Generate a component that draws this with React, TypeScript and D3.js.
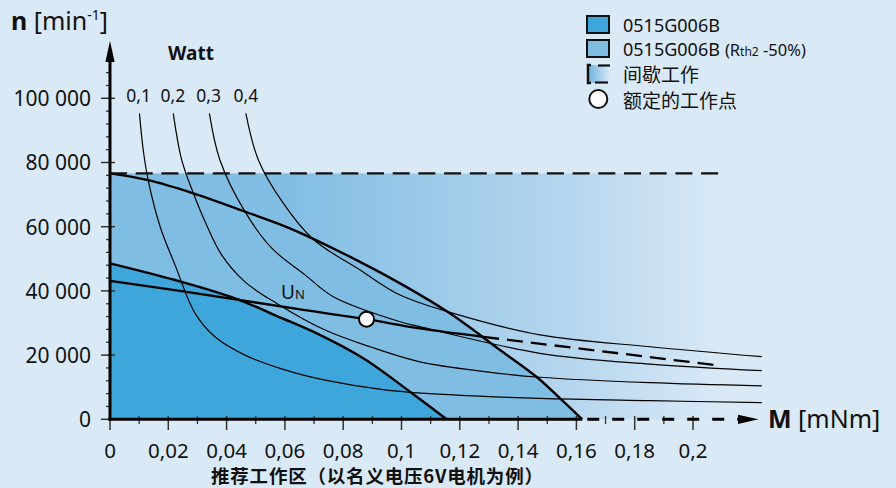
import React from 'react';
import * as d3 from 'd3';

const W = 896;
const H = 488;

// ---------- data ----------
const X_TICKS = [0, 0.02, 0.04, 0.06, 0.08, 0.1, 0.12, 0.14, 0.16, 0.18, 0.2];
const X_TICK_LABELS = ['0', '0,02', '0,04', '0,06', '0,08', '0,1', '0,12', '0,14', '0,16', '0,18', '0,2'];
const X_MINOR = [0.01, 0.03, 0.05, 0.07, 0.09, 0.11, 0.13, 0.15, 0.17, 0.19];
const Y_TICKS = [0, 20000, 40000, 60000, 80000, 100000];
const Y_TICK_LABELS = ['0', '20 000', '40 000', '60 000', '80 000', '100 000'];
const Y_MINOR = [4000, 8000, 12000, 16000, 24000, 28000, 32000, 36000, 44000, 48000, 52000, 56000, 64000, 68000, 72000, 76000, 84000, 88000, 92000, 96000, 104000, 108000];

// speed limit (dashed) and end of intermittent region
const LIMIT_N = 76600;
const LIMIT_M_END = 0.2097;

// 0515G006B (Rth2 -50%) boundary
const MED_M = [0, 0.0131, 0.0286, 0.0463, 0.0617, 0.0846, 0.1006, 0.1166, 0.1338, 0.1469, 0.1544, 0.162];
const MED_N = [76600, 74500, 70400, 64700, 59500, 49600, 41800, 33000, 21600, 12800, 6500, 0];

// 0515G006B boundary
const DARK_M = [0, 0.0223, 0.0429, 0.0577, 0.072, 0.0869, 0.1029, 0.1155];
const DARK_N = [48600, 43400, 37700, 32000, 26300, 19000, 8600, 0];

// U_N characteristic
const UN_M = [0, 0.0257, 0.0669, 0.088, 0.1063, 0.128];
const UN_N = [43100, 39800, 34000, 31200, 28300, 25700];
const UN_DASH_M = [0.128, 0.2093];
const UN_DASH_N = [25700, 16700];

const RATED_M = 0.088;
const RATED_N = 31200;

// constant power curves (Watt)
const POWER_LABELS = ['0,1', '0,2', '0,3', '0,4'];
const P1_M = [0.0101, 0.0114, 0.0131, 0.0172, 0.0223, 0.0292, 0.036, 0.0463, 0.06, 0.0738, 0.0949, 0.1178, 0.1475, 0.1852, 0.2236];
const P1_N = [95300, 83900, 74500, 60000, 48100, 33000, 25700, 20000, 15400, 12200, 9100, 7600, 6500, 5800, 5200];
const P2_M = [0.0217, 0.0246, 0.0286, 0.0326, 0.0383, 0.0463, 0.0572, 0.0738, 0.0892, 0.1063, 0.1292, 0.1475, 0.1852, 0.2236];
const P2_N = [95300, 80800, 70400, 61600, 51200, 42800, 36100, 27800, 22600, 17900, 14800, 13100, 11400, 10400];
const P3_M = [0.0341, 0.0377, 0.0463, 0.0555, 0.0669, 0.0766, 0.0995, 0.1063, 0.1475, 0.1852, 0.2236];
const P3_N = [95300, 80800, 64700, 53300, 45000, 38200, 30400, 28850, 20560, 17200, 15140];
const P4_M = [0.0466, 0.0509, 0.0593, 0.0697, 0.0858, 0.0995, 0.1178, 0.1475, 0.1852, 0.2236];
const P4_N = [95300, 80800, 67500, 56100, 46500, 38700, 33000, 26300, 22600, 19500];

const LEGEND_LABELS = ['0515G006B', '0515G006B', '间歇工作', '额定的工作点'];
const X_TITLE = '推荐工作区（以名义电压6V电机为例）';

// ---------- styling ----------
const BG = '#d9e9f6';
const DARK = '#3ea6da';
const MED = '#80bde3';
const FONT = "'Noto Sans', 'Noto Sans CJK SC', sans-serif";
const CJK = "'Noto Sans CJK SC', 'Noto Sans', sans-serif";

const x = d3.scaleLinear().domain([0, 0.2]).range([110, 693]);
const y = d3.scaleLinear().domain([0, 100000]).range([419.3, 98.3]);

const zip = (ms: number[], ns: number[]) => ms.map((m, i) => [m, ns[i]] as [number, number]);

const curve = d3.curveCatmullRom.alpha(0.5);

const smooth = d3
  .line<[number, number]>()
  .x((d) => x(d[0]))
  .y((d) => y(d[1]))
  .curve(curve);
const straight = d3
  .line<[number, number]>()
  .x((d) => x(d[0]))
  .y((d) => y(d[1]));

const area = (ms: number[], ns: number[]) =>
  d3
    .area<[number, number]>()
    .x((d) => x(d[0]))
    .y0(y(0))
    .y1((d) => y(d[1]))
    .curve(curve)(zip(ms, ns)) || '';

export default function App() {
  const powers = [zip(P1_M, P1_N), zip(P2_M, P2_N), zip(P3_M, P3_N), zip(P4_M, P4_N)];
  const labelX = [138.7, 172.8, 208.7, 245.8];
  const axisY = y(0);
  const solidEnd = x(MED_M[MED_M.length - 1]);
  const arrowBase = 740;
  const arrowTip = 758.5;

  return (
    <svg
      width={W}
      height={H}
      viewBox={`0 0 ${W} ${H}`}
      style={{ position: 'absolute', left: 0, top: 0, display: 'block' }}
      fontFamily={FONT}
    >
      <defs>
        <linearGradient id="interm" x1={x(0)} x2={x(LIMIT_M_END)} y1={0} y2={0} gradientUnits="userSpaceOnUse">
          <stop offset="0" stopColor={MED} />
          <stop offset="0.3" stopColor="#82bee4" />
          <stop offset="0.75" stopColor="#b6d6ee" />
          <stop offset="1" stopColor={BG} />
        </linearGradient>
        <linearGradient id="legendGrad" x1="0" x2="1" y1="0" y2="0">
          <stop offset="0" stopColor="#6fb2df" />
          <stop offset="1" stopColor={BG} />
        </linearGradient>
      </defs>
      <rect x={0} y={0} width={W} height={H} fill={BG} />

      {/* intermittent region */}
      <rect
        x={x(0)}
        y={y(LIMIT_N)}
        width={x(LIMIT_M_END) - x(0)}
        height={y(0) - y(LIMIT_N)}
        fill="url(#interm)"
      />
      {/* Rth2 -50% region */}
      <path d={area(MED_M, MED_N)} fill={MED} />
      {/* continuous region */}
      <path d={area(DARK_M, DARK_N)} fill={DARK} />

      {/* power hyperbolas */}
      {powers.map((p, i) => (
        <path key={i} d={smooth(p) || ''} fill="none" stroke="#000" strokeWidth={1.2} />
      ))}

      {/* boundaries */}
      <path d={smooth(zip(MED_M, MED_N)) || ''} fill="none" stroke="#000" strokeWidth={2.4} />
      <path d={smooth(zip(DARK_M, DARK_N)) || ''} fill="none" stroke="#000" strokeWidth={2.4} />

      {/* U_N line */}
      <path d={smooth(zip(UN_M, UN_N)) || ''} fill="none" stroke="#000" strokeWidth={2.3} />
      <path
        d={straight(zip(UN_DASH_M, UN_DASH_N)) || ''}
        fill="none"
        stroke="#000"
        strokeWidth={2.3}
        strokeDasharray="16 8"
      />

      {/* speed limit */}
      <line
        x1={x(0)}
        x2={x(LIMIT_M_END)}
        y1={y(LIMIT_N)}
        y2={y(LIMIT_N)}
        stroke="#111"
        strokeWidth={2.4}
        strokeDasharray="17 8.7"
      />

      {/* x axis ticks */}
      {X_TICKS.map((t) => (
        <line key={'xt' + t} x1={x(t)} x2={x(t)} y1={416} y2={430} stroke="#333" strokeWidth={1.5} />
      ))}
      {X_MINOR.map((t) => (
        <line key={'xm' + t} x1={x(t)} x2={x(t)} y1={416} y2={424} stroke="#333" strokeWidth={1.3} />
      ))}
      {X_TICKS.map((t, i) => (
        <text key={'xl' + t} x={x(t)} y={457.5} fontSize={20.5} textAnchor="middle" fill="#111">
          {X_TICK_LABELS[i]}
        </text>
      ))}

      {/* y axis ticks */}
      {Y_MINOR.map((t) => (
        <line key={'ym' + t} x1={106} x2={110} y1={y(t)} y2={y(t)} stroke="#333" strokeWidth={1.3} />
      ))}
      {Y_TICKS.map((t) => (
        <line key={'yt' + t} x1={101} x2={115} y1={y(t)} y2={y(t)} stroke="#333" strokeWidth={1.5} />
      ))}
      {Y_TICKS.map((t, i) => (
        <text key={'yl' + t} x={91} y={y(t) + 7.8} fontSize={21} textAnchor="end" fill="#111">
          {Y_TICK_LABELS[i]}
        </text>
      ))}

      {/* x axis */}
      <line x1={x(0) - 1.5} x2={solidEnd} y1={axisY} y2={axisY} stroke="#000" strokeWidth={3} />
      <line
        x1={solidEnd + 5}
        x2={arrowBase}
        y1={axisY}
        y2={axisY}
        stroke="#000"
        strokeWidth={3}
        strokeDasharray="12 13"
      />
      <path d={`M${arrowTip},${axisY} L${arrowBase - 2},${axisY - 4.6} L${arrowBase - 2},${axisY + 4.6} Z`} fill="#000" />

      {/* y axis */}
      <line x1={x(0)} x2={x(0)} y1={axisY + 1.5} y2={58} stroke="#000" strokeWidth={3} />
      <path d={`M${x(0)},41 L${x(0) - 4.6},62 L${x(0) + 4.6},62 Z`} fill="#000" />

      {/* rated point */}
      <circle cx={x(RATED_M)} cy={y(RATED_N)} r={7.5} fill="#fff" stroke="#000" strokeWidth={2} />

      {/* U_N label */}
      <text x={281} y={298.5} fontSize={19} fill="#111">
        U<tspan fontSize={13}>N</tspan>
      </text>

      {/* power labels */}
      <text x={191} y={60} fontSize={19} fontWeight="bold" textAnchor="middle" fill="#111">
        Watt
      </text>
      {POWER_LABELS.map((l, i) => (
        <text key={l} x={labelX[i]} y={101.5} fontSize={17.5} textAnchor="middle" fill="#111">
          {l}
        </text>
      ))}

      {/* axis titles */}
      <text x={11} y={30} fontSize={25} fill="#111">
        <tspan fontWeight="bold">n</tspan>
        <tspan> [min</tspan>
        <tspan fontSize={14} dy={-10}>-1</tspan>
        <tspan dy={10}>]</tspan>
      </text>
      <text x={768} y={428} fontSize={25} fill="#111">
        <tspan fontWeight="bold">M</tspan>
        <tspan> [mNm]</tspan>
      </text>
      <text x={211} y={483} fontSize={18.5} letterSpacing={0.8} fontWeight="bold" fontFamily={CJK} fill="#111">
        {X_TITLE}
      </text>

      {/* legend */}
      <g>
        <rect x={587} y={16} width={22} height={17} fill={DARK} stroke="#111" strokeWidth={2} />
        <text x={623} y={31.5} fontSize={18} fill="#111">
          {LEGEND_LABELS[0]}
        </text>
        <rect x={587} y={40} width={22} height={17} fill={MED} stroke="#111" strokeWidth={2} />
        <text x={623} y={55.5} fontSize={18} fill="#111">
          {LEGEND_LABELS[1]}
          <tspan fontSize={16.5} dx={5}>(R</tspan>
          <tspan fontSize={12}>th2</tspan>
          <tspan fontSize={16.5}> -50%)</tspan>
        </text>
        <rect x={588} y={65} width={22} height={18} fill="url(#legendGrad)" />
        <path d="M591,65 L588,65 L588,83 L591,83" fill="none" stroke="#111" strokeWidth={2.5} />
        <line x1={598} x2={610} y1={65.5} y2={65.5} stroke="#111" strokeWidth={2.2} />
        <line x1={595} x2={608} y1={82.5} y2={82.5} stroke="#111" strokeWidth={2.2} />
        <text x={623} y={82} fontSize={19} fontFamily={CJK} fill="#111">
          {LEGEND_LABELS[2]}
        </text>
        <circle cx={598.3} cy={99} r={9} fill="#fff" stroke="#111" strokeWidth={2} />
        <text x={623} y={107.5} fontSize={19} fontFamily={CJK} fill="#111">
          {LEGEND_LABELS[3]}
        </text>
      </g>
    </svg>
  );
}
